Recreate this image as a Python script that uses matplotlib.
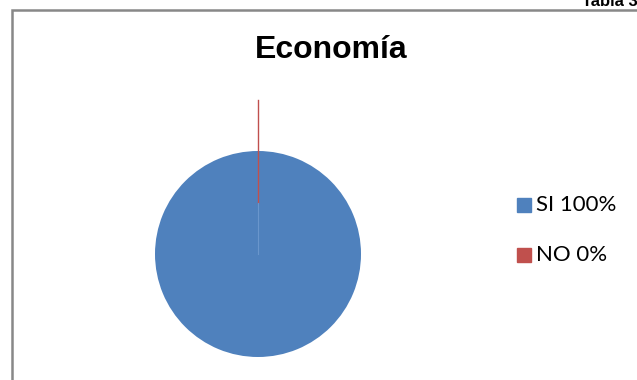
import numpy as np
import matplotlib.pyplot as plt
from matplotlib.patches import Rectangle

# chart data
title = "Economía"
labels = ["SI", "NO"]
values = [100, 0]
colors = ["#4F81BD", "#C0504D"]

W, H = 637, 380
fig = plt.figure(figsize=(W / 100, H / 100), dpi=100)

# outer chart frame (partly cut off by the image edge)
fig.patches.append(Rectangle((12 / W, -0.1), 1.2, (H - 9.5) / H + 0.1,
                             transform=fig.transFigure, fill=False,
                             edgecolor="#888888", linewidth=1.8))

fig.text(582 / W, 1 - 6 / H, "Tabla 3", fontsize=12, fontweight="bold",
         family="Liberation Sans", ha="left", va="baseline")

fig.text(331 / W, 1 - 50 / H, title, fontsize=23, fontweight="bold",
         family="Liberation Sans", ha="center", va="center")

# pie axes: center (258, 254) px, radius 103 px
cx, cy, r = 258, 254, 103
s = 1.6
side = 2 * r * s
ax = fig.add_axes([(cx - side / 2) / W, (H - cy - side / 2) / H, side / W, side / H])
wedges, _ = ax.pie(values, colors=colors, startangle=90, counterclock=False,
                   wedgeprops=dict(linewidth=0))
ax.set_xlim(-s, s)
ax.set_ylim(-s, s)
ax.set_aspect("equal")
ax.axis("off")

# leader line for the 0% slice
ang = np.deg2rad(90 - 360 * sum(values[:1]) / sum(values))
ax.plot([0.5 * np.cos(ang), 1.5 * np.cos(ang)], [0.5 * np.sin(ang), 1.5 * np.sin(ang)],
        color=colors[1], linewidth=1.0, clip_on=False)
ax.plot([0, 0.5 * np.cos(ang)], [0, 0.5 * np.sin(ang)],
        color="#6a96cc", linewidth=0.8, clip_on=False)

# legend
for i, (lab, v) in enumerate(zip(labels, values)):
    y = 1 - (205 + 50 * i) / H
    fig.patches.append(Rectangle((517 / W, y - 7 / H), 14 / W, 14 / H,
                                 transform=fig.transFigure, color=colors[i]))
    fig.text(536 / W, y, "%s %d%%" % (lab, v), fontsize=16, family="Lato",
             ha="left", va="center")

fig.savefig("out.png", dpi=100)
